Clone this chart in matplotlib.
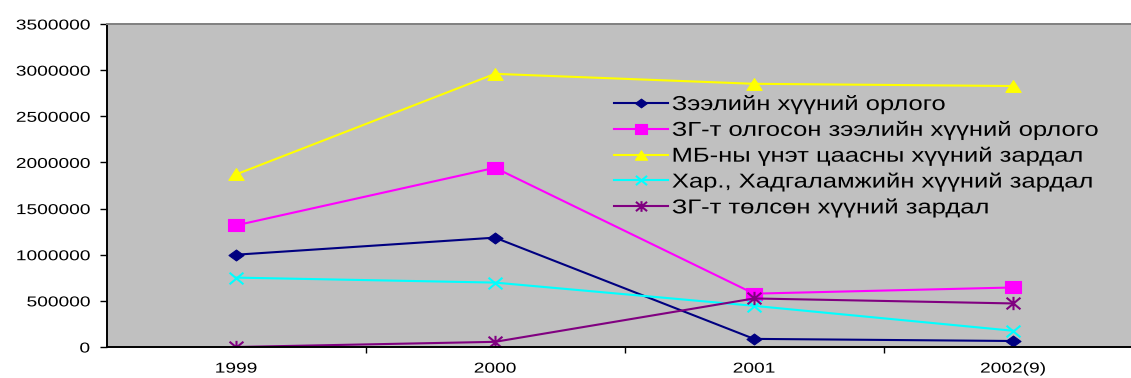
import matplotlib
matplotlib.use("Agg")
import matplotlib.pyplot as plt
from matplotlib.path import Path
from matplotlib.transforms import Affine2D
from matplotlib.patheffects import AbstractPathEffect
from matplotlib.ticker import FixedLocator, NullFormatter

plt.rcParams['font.family'] = ['Liberation Sans', 'DejaVu Sans']

years = ["1999", "2000", "2001", "2002(9)"]
y_ticks = [0, 500000, 1000000, 1500000, 2000000, 2500000, 3000000, 3500000]

loan_income = [1000000, 1185000, 88000, 65000]
govt_loan_income = [1318000, 1942000, 578000, 645000]
cb_securities_cost = [1870000, 2960000, 2852000, 2828000]
savings_cost = [752000, 698000, 446000, 176000]
govt_paid_cost = [0, 56000, 526000, 472000]

series_names = [
    "Зээлийн хүүний орлого",
    "ЗГ-т олгосон зээлийн хүүний орлого",
    "МБ-ны үнэт цаасны хүүний зардал",
    "Хар., Хадгаламжийн хүүний зардал",
    "ЗГ-т төлсөн хүүний зардал",
]

WIDE = 1.38  # horizontal widening of the markers


class HStretch(AbstractPathEffect):
    """Widen text glyphs horizontally about a fixed anchor (0=left, 1=right)."""

    def __init__(self, sx, anchor=0.0):
        super().__init__()
        self.sx = sx
        self.anchor = anchor

    def draw_path(self, renderer, gc, tpath, affine, rgbFace=None):
        if len(tpath.vertices) == 0:
            return
        ext = tpath.get_extents()
        x0 = ext.x0 + self.anchor * (ext.x1 - ext.x0)
        t = Affine2D().translate(-x0, 0).scale(self.sx, 1).translate(x0, 0) + affine
        renderer.draw_path(gc, tpath, t, rgbFace)


def closed(pts):
    return Path(pts + [pts[0]], [Path.MOVETO] + [Path.LINETO] * (len(pts) - 1) + [Path.CLOSEPOLY])


w = WIDE
diamond = closed([(0, 1), (w, 0), (0, -1), (-w, 0)])
square = closed([(-1.25, -1), (1.25, -1), (1.25, 1), (-1.25, 1)])
triangle = closed([(0, 1), (-1.3, -1), (1.3, -1)])
cross = Path([(-1.2, -1), (1.2, 1), (-1.2, 1), (1.2, -1)],
             [Path.MOVETO, Path.LINETO, Path.MOVETO, Path.LINETO])
star = Path([(-1.2, -1), (1.2, 1), (-1.2, 1), (1.2, -1), (0, -1.15), (0, 1.15)],
            [Path.MOVETO, Path.LINETO, Path.MOVETO, Path.LINETO, Path.MOVETO, Path.LINETO])

styles = [
    dict(color="#000080", marker=diamond, ms=10.8, mec="#000080", mfc="#000080", mew=0.8),
    dict(color="#FF00FF", marker=square, ms=11, mec="#FF00FF", mfc="#FF00FF", mew=0.8),
    dict(color="#FFFF00", marker=triangle, ms=11, mec="#FFFF00", mfc="#FFFF00", mew=0.8),
    dict(color="#00FFFF", marker=cross, ms=10, mec="#00FFFF", mew=1.5),
    dict(color="#800080", marker=star, ms=10, mec="#800080", mew=1.5),
]

values = [loan_income, govt_loan_income, cb_securities_cost, savings_cost, govt_paid_cost]

fig = plt.figure(figsize=(11.31, 3.78), dpi=100)
fig.patch.set_facecolor("white")
ax = fig.add_axes([106.5 / 1131, 31 / 378, 1036 / 1131, 323 / 378])
ax.set_facecolor("#C0C0C0")

x = list(range(len(years)))
for vals, name, st in zip(values, series_names, styles):
    ax.plot(x, vals, lw=1.5, label=name, **st)

ax.set_yticks(y_ticks)
ax.set_yticklabels([str(v) for v in y_ticks])
ax.set_ylim(y_ticks[0], y_ticks[-1])

ax.set_xticks(x)
ax.set_xticklabels(years)
ax.set_xlim(-0.5, len(years) - 0.5)
ax.xaxis.set_minor_locator(FixedLocator([i + 0.5 for i in range(len(years) - 1)]))
ax.xaxis.set_minor_formatter(NullFormatter())
ax.tick_params(axis="x", which="major", length=0, pad=10.5, labelsize=10.3)
ax.tick_params(axis="x", which="minor", length=4, width=1, direction="out", color="black")
ax.tick_params(axis="y", which="major", length=5, width=1, direction="out", pad=7,
               labelsize=10.3, color="black")

for lab in ax.get_yticklabels():
    lab.set_color("black")
    lab.set_path_effects([HStretch(1.34, anchor=1.0)])
for lab in ax.get_xticklabels():
    lab.set_color("black")
    lab.set_path_effects([HStretch(1.34, anchor=0.5)])

ax.spines["left"].set_color("black")
ax.spines["left"].set_linewidth(1.4)
ax.spines["bottom"].set_color("black")
ax.spines["bottom"].set_linewidth(1.4)
ax.spines["top"].set_color("#808080")
ax.spines["top"].set_linewidth(1.4)
ax.spines["right"].set_color("#808080")

leg = ax.legend(
    loc="upper left",
    bbox_to_anchor=(614 / 1131, 1 - 95 / 378),
    bbox_transform=fig.transFigure,
    frameon=False,
    fontsize=14.5,
    markerscale=0.8,
    handlelength=2.7,
    handletextpad=0.18,
    labelspacing=0.34,
    borderpad=0,
    borderaxespad=0,
)
for t in leg.get_texts():
    t.set_color("black")
    t.set_path_effects([HStretch(1.27, anchor=0.0)])

fig.savefig("out.png", dpi=100, facecolor="white")
